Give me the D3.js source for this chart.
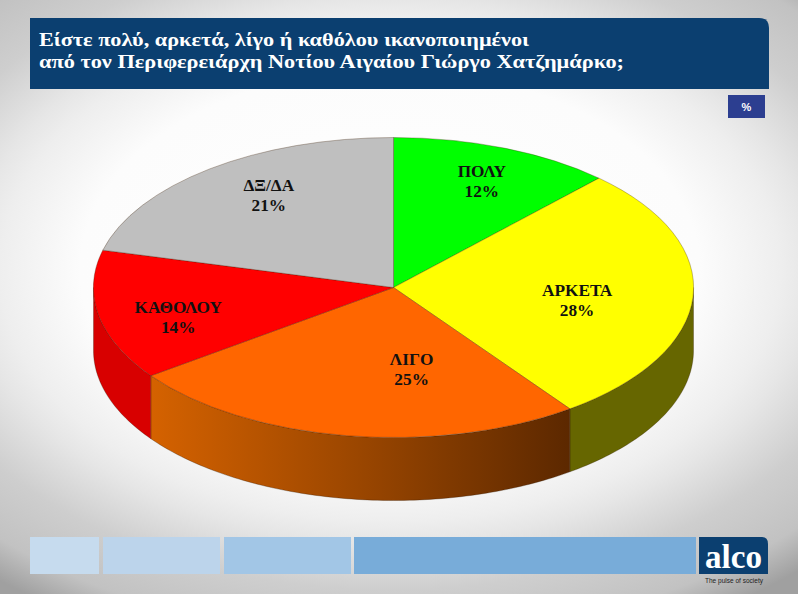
<!DOCTYPE html>
<html lang="el">
<head>
<meta charset="utf-8">
<script src="https://cdn.jsdelivr.net/npm/d3@7"></script>
<style>
html,body{margin:0;padding:0;background:#fff;overflow:hidden}
svg{display:block}
text{font-family:"Liberation Serif",serif}
</style>
</head>
<body>
<svg id="chart" width="798" height="594"></svg>
<script>
const categories = ["ΠΟΛΥ", "ΑΡΚΕΤΑ", "ΛΙΓΟ", "ΚΑΘΟΛΟΥ", "ΔΞ/ΔΑ"];
const values = [12, 28, 25, 14, 21];
const topColors = ["#00ff00", "#ffff00", "#ff6600", "#ff0000", "#bfbfbf"];
const titleLines = ["Είστε πολύ, αρκετά, λίγο ή καθόλου ικανοποιημένοι",
                    "από τον Περιφερειάρχη Νοτίου Αιγαίου Γιώργο Χατζημάρκο;"];
const unitLabel = "%";

const W = 798, H = 594;
const cx = 393.5, cy = 287.5, rx = 300, ry = 150, depth = 63;
const labelFrac = 0.7;
const labelNudge = [[11, -13], [-26, 2], [51, -26], [-9, 6], [4, -14]];
const titleWidths = [490, 585];

const svg = d3.select("#chart");
const defs = svg.append("defs");

const bg = defs.append("radialGradient").attr("id", "bg")
  .attr("gradientUnits", "userSpaceOnUse")
  .attr("cx", 390).attr("cy", 270).attr("r", 620)
  .attr("gradientTransform", "translate(390 270) scale(1 .645) translate(-390 -270)");
[[0, "#ffffff"], [.5, "#fcfcfc"], [.63, "#eeeeee"], [.68, "#e6e6e6"], [.8, "#cecece"], [.92, "#c2c2c2"], [1.0, "#a0a0a0"]]
  .forEach(([o, c]) => bg.append("stop").attr("offset", o).attr("stop-color", c));

const orangeWall = defs.append("linearGradient").attr("id", "orangeWall")
  .attr("gradientUnits", "userSpaceOnUse").attr("x1", 150).attr("x2", 570).attr("y1", 0).attr("y2", 0);
[[0, "#d56200"], [.5, "#9a4600"], [1, "#5c2800"]]
  .forEach(([o, c]) => orangeWall.append("stop").attr("offset", o).attr("stop-color", c));

svg.append("rect").attr("width", W).attr("height", H).attr("fill", "url(#bg)");

const bannerPath = d3.path();
bannerPath.moveTo(30, 18); bannerPath.lineTo(759, 18);
bannerPath.quadraticCurveTo(769, 18, 769, 28);
bannerPath.lineTo(769, 89); bannerPath.lineTo(30, 89); bannerPath.closePath();
svg.append("path").attr("d", bannerPath.toString()).attr("fill", "#0b3f70");
svg.append("g").selectAll("text").data(titleLines).join("text")
  .attr("x", 39).attr("y", (d, i) => 46 + i * 22)
  .attr("fill", "#fff").attr("font-size", 19).attr("font-weight", "bold")
  .attr("textLength", (d, i) => titleWidths[i]).attr("lengthAdjust", "spacingAndGlyphs")
  .text(d => d);

svg.append("rect").attr("x", 728).attr("y", 95).attr("width", 37).attr("height", 23).attr("fill", "#2c3e90");
svg.append("text").attr("x", 746.5).attr("y", 111).attr("text-anchor", "middle")
  .attr("fill", "#fff").attr("font-size", 11).attr("font-weight", "bold")
  .style("font-family", "'Liberation Sans',sans-serif").text(unitLabel);

const pie = d3.pie().value(d => d).sort(null);
const arcs = pie(values);
const px = d3.scaleLinear().domain([-1, 1]).range([cx - rx, cx + rx]);
const py = d3.scaleLinear().domain([-1, 1]).range([cy - ry, cy + ry]);
const ax = a => px(Math.sin(a)), ay = a => py(-Math.cos(a));

const wallColor = ["none", "#666600", "url(#orangeWall)", "#d80000", "none"];
const STEP = Math.PI / 180;
const wallLine = d3.line().x(d => d[0]).y(d => d[1]);
function wallPath(a0, a1) {
  const s = Math.max(a0, Math.PI / 2), e = Math.min(a1, 3 * Math.PI / 2);
  if (e <= s) return null;
  const angles = d3.range(s, e, STEP).concat([e]);
  const upper = angles.map(a => [ax(a), ay(a)]);
  const lower = angles.slice().reverse().map(a => [ax(a), ay(a) + depth]);
  return wallLine(upper.concat(lower)) + "Z";
}
svg.append("g").selectAll("path").data(arcs.filter(d => wallPath(d.startAngle, d.endAngle))).join("path")
  .attr("d", d => wallPath(d.startAngle, d.endAngle))
  .attr("fill", d => wallColor[d.index])
  .attr("stroke", "#2a1400").attr("stroke-width", .6).attr("stroke-opacity", .5);

const unitArc = d3.arc().innerRadius(0).outerRadius(1);
svg.append("g").attr("transform", `translate(${cx},${cy}) scale(${rx},${ry})`)
  .selectAll("path").data(arcs).join("path")
  .attr("d", unitArc)
  .attr("fill", d => topColors[d.index])
  .attr("stroke", "#3a1a00").attr("stroke-opacity", .5).attr("stroke-width", .6)
  .attr("vector-effect", "non-scaling-stroke");

const labels = svg.append("g").selectAll("g").data(arcs).join("g")
  .attr("transform", d => {
    const m = (d.startAngle + d.endAngle) / 2;
    const x = cx + Math.sin(m) * rx * labelFrac + labelNudge[d.index][0];
    const y = cy - Math.cos(m) * ry * labelFrac + labelNudge[d.index][1];
    return `translate(${x},${y})`;
  })
  .attr("text-anchor", "middle").attr("font-size", 17.3).attr("font-weight", "bold").attr("fill", "#111");
labels.append("text").attr("y", 0).text(d => categories[d.index]);
labels.append("text").attr("y", 20).text(d => d.value + "%");

const bandEdges = [[30, 99, "#c6dbee"], [103, 220, "#bcd4eb"], [224, 351, "#a2c6e6"], [354, 696, "#78acd9"]];
svg.append("g").selectAll("rect").data(bandEdges).join("rect")
  .attr("x", d => d[0]).attr("y", 537).attr("width", d => d[1] - d[0]).attr("height", 37)
  .attr("fill", d => d[2]);

const logoPath = d3.path();
logoPath.moveTo(699, 537); logoPath.lineTo(762, 537);
logoPath.quadraticCurveTo(768, 537, 768, 544);
logoPath.lineTo(768, 574); logoPath.lineTo(699, 574); logoPath.closePath();
svg.append("path").attr("d", logoPath.toString()).attr("fill", "#0b3f70");
svg.append("text").attr("x", 733.5).attr("y", 568).attr("text-anchor", "middle")
  .attr("fill", "#fff").attr("font-size", 33).attr("font-weight", "bold").attr("textLength", 57).attr("lengthAdjust", "spacingAndGlyphs").text("alco");
svg.append("text").attr("x", 734).attr("y", 583).attr("text-anchor", "middle")
  .attr("fill", "#222").attr("font-size", 7).attr("textLength", 58).attr("lengthAdjust", "spacingAndGlyphs")
  .style("font-family", "'Liberation Sans',sans-serif").text("The pulse of society");
</script>
</body>
</html>
